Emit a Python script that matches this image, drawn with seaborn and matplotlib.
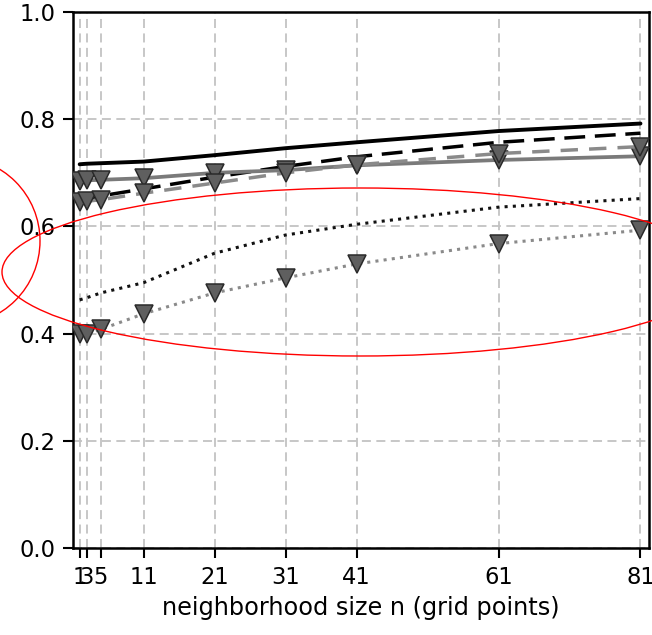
import matplotlib
matplotlib.use("Agg")
import matplotlib.pyplot as plt
import seaborn as sns
from matplotlib.patches import Ellipse
from matplotlib.transforms import IdentityTransform

# ---- data ----
n_pos = [2, 3, 5, 11, 21, 31, 41, 61, 81]
n_labels = ["1", "3", "5", "11", "21", "31", "41", "61", "81"]
black_solid = [0.716, 0.717, 0.718, 0.721, 0.733, 0.746, 0.757, 0.778, 0.792]
black_dashed = [0.650, 0.652, 0.657, 0.670, 0.692, 0.712, 0.730, 0.757, 0.774]
black_dotted = [0.463, 0.467, 0.476, 0.495, 0.550, 0.584, 0.604, 0.636, 0.652]
gray_solid = [0.685, 0.686, 0.687, 0.690, 0.700, 0.705, 0.714, 0.724, 0.731]
gray_dashed = [0.645, 0.647, 0.650, 0.662, 0.681, 0.700, 0.715, 0.736, 0.749]
gray_dotted = [0.400, 0.400, 0.408, 0.437, 0.476, 0.504, 0.530, 0.568, 0.593]
x_label = "neighborhood size n (grid points)"

sns.set_style("white")
plt.rcParams["font.family"] = ["DejaVu Sans"]
plt.rcParams["font.size"] = 16
plt.rcParams["text.color"] = "black"
plt.rcParams["axes.labelcolor"] = "black"

fig = plt.figure(figsize=(6.52, 6.35), dpi=100)
ax = fig.add_axes([0.1124, 0.137, 0.883, 0.844])

tri = dict(marker="v", markersize=12.5, markerfacecolor="#5f5f5f",
           markeredgecolor="#2a2a2a", markeredgewidth=1.1)

sns.lineplot(x=n_pos, y=black_solid, ax=ax, color="black", lw=2.8,
             linestyle="-", zorder=3)
sns.lineplot(x=n_pos, y=black_dashed, ax=ax, color="black", lw=2.5,
             linestyle=(0, (6.0, 2.8)), zorder=3)
sns.lineplot(x=n_pos, y=black_dotted, ax=ax, color="#111111", lw=2.2,
             linestyle=(0, (1, 1.7)), zorder=3)
sns.lineplot(x=n_pos, y=gray_solid, ax=ax, color="#7a7a7a", lw=2.7,
             linestyle="-", zorder=4, **tri)
sns.lineplot(x=n_pos, y=gray_dashed, ax=ax, color="#8a8a8a", lw=2.5,
             linestyle=(0, (5.0, 3.2)), zorder=4, **tri)
sns.lineplot(x=n_pos, y=gray_dotted, ax=ax, color="#8a8a8a", lw=2.2,
             linestyle=(0, (1, 1.7)), zorder=4, **tri)

ax.set_xlim(1.1, 82.2)
ax.set_ylim(0, 1.0)
ax.set_xticks(n_pos)
ax.set_xticklabels(n_labels)
ax.set_yticks([0.0, 0.2, 0.4, 0.6, 0.8, 1.0])
ax.set_yticklabels(["0.0", "0.2", "0.4", "0.6", "0.8", "1.0"])
ax.set_xlabel(x_label, fontsize=17.3, labelpad=5, color="black")
ax.set_axisbelow(True)
ax.grid(True, color="#c3c3c3", linestyle=(0, (5, 3)), lw=1.3)
ax.tick_params(axis="both", direction="out", length=7, width=1.5,
               labelsize=16.3, colors="black", pad=6)
ax.tick_params(axis="both", which="both", bottom=True, left=True)
for s in ax.spines.values():
    s.set_color("black")
    s.set_linewidth(1.8)

# red hand annotations (pixel coordinates)
fig.add_artist(Ellipse((360, 635 - 272), 716, 168, transform=IdentityTransform(),
                       fill=False, edgecolor="red", lw=1.0, zorder=10))
fig.add_artist(Ellipse((-44, 635 - 241), 168, 168, transform=IdentityTransform(),
                       fill=False, edgecolor="red", lw=1.0, zorder=10))

fig.savefig("out.png", dpi=100)
